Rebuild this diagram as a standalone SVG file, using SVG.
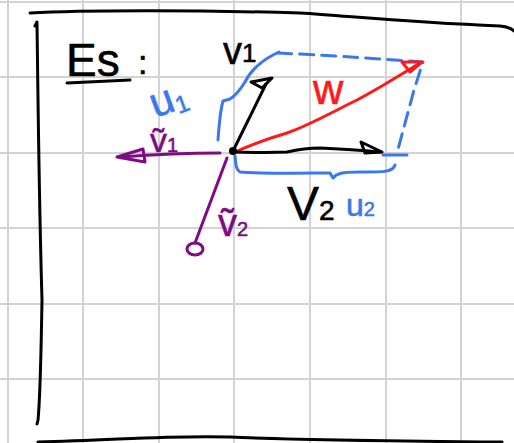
<svg xmlns="http://www.w3.org/2000/svg" width="514" height="443" viewBox="0 0 514 443">
<style>
.grid{stroke:#d3d3d3;stroke-width:2;fill:none}
.ink{fill:none;stroke-linecap:round;stroke-linejoin:round;stroke-width:3}
.k{stroke:#000}
.b{stroke:#3b78f0}
.r{stroke:#ff1a1a}
.p{stroke:#7f0a84}
.dash{stroke-dasharray:14 8}
text{font-family:"Liberation Sans","DejaVu Sans",sans-serif;stroke-width:0.6;stroke-linejoin:round}
.tk{fill:#000;stroke:#000}
.tb{fill:#3b78f0;stroke:#3b78f0}
.tr{fill:#ff1a1a;stroke:#ff1a1a}
.tp{fill:#7f0a84;stroke:#7f0a84}
</style>
<rect width="514" height="443" fill="#fff"/>
<g id="grid" class="grid">
<path d="M8 0V443M83 0V443M159 0V443M234 0V443M310 0V443M386 0V443M461 0V443"/>
<path d="M0 2H514M0 77H514M0 153H514M0 228H514M0 304H514M0 379H514"/>
</g>
<g id="frame" class="ink k">
<path d="M30 13C80 10 200 10 300 13C350 16 400 22 500 26Q510 27 514 31"/>
<path d="M35 26L37 22C38 100 39 200 42 300C41 360 40 400 38 420L37 424"/>
<path d="M38 442C120 440 170 435 230 437C300 440 400 441 502 442"/>
</g>
<g id="title">
<text class="tk" x="66" y="76" font-size="46">Es</text>
<path class="ink k" d="M67 83L130 80"/>
<text class="tk" x="138" y="74" font-size="34">:</text>
</g>
<g id="parallelogram" class="ink b">
<path class="dash" d="M278 53C320 55 370 58 423 62L414 90L397 153"/>
<path d="M383 155H407"/>
<path d="M218 140C219 125 220 112 223 101L230 99C235 96 240 90 245 82C250 72 260 62 273 55L279 52"/>
<path d="M235 156C236 165 236 170 240 172C270 174 310 173 330 173L333 178C336 174 340 172 360 172C385 172 393 172 395 165"/>
</g>
<g id="connectors">
<g id="w" class="ink r">
<path d="M233 153C250 145 270 138 287 133C310 125 340 108 357 100C380 88 400 75 420 63"/>
<path d="M422 62L402 62L410 72Z"/>
</g>
<g id="v1" class="ink k">
<path d="M233 151L266 84"/>
<path d="M272 78L251 82L262 88Z"/>
</g>
<g id="v2" class="ink k">
<path d="M233 152C260 153 275 152 287 152C300 149 310 148 320 148C340 149 360 150 380 152"/>
<path d="M382 152L361 142L365 153Z"/>
</g>
<g id="v1t" class="ink p">
<path d="M220 153C190 153 160 154 120 157"/>
<path d="M117 157L143 149L145 162Z"/>
</g>
<g id="v2t" class="ink p">
<path d="M227 158L195 243"/>
<ellipse cx="195" cy="249" rx="8" ry="6"/>
</g>
<circle cx="233" cy="151" r="4" fill="#000"/>
</g>
<g id="labels">
<text class="tk" x="223" y="64" font-size="38">v<tspan font-size="26" dy="-2">1</tspan></text>
<text class="tb" x="150" y="112" font-size="42" transform="rotate(-20 170 100)">u<tspan font-size="24" dy="4">1</tspan></text>
<text class="tr" x="313" y="104" font-size="42">w</text>
<text class="tk" x="287" y="220" font-size="48">V<tspan font-size="28">2</tspan></text>
<text class="tb" x="346" y="216" font-size="32">u<tspan font-size="20">2</tspan></text>
<text class="tp" x="150" y="152" font-size="34">ṽ<tspan font-size="20">1</tspan></text>
<text class="tp" x="218" y="236" font-size="38">ṽ<tspan font-size="20">2</tspan></text>
</g>
</svg>
